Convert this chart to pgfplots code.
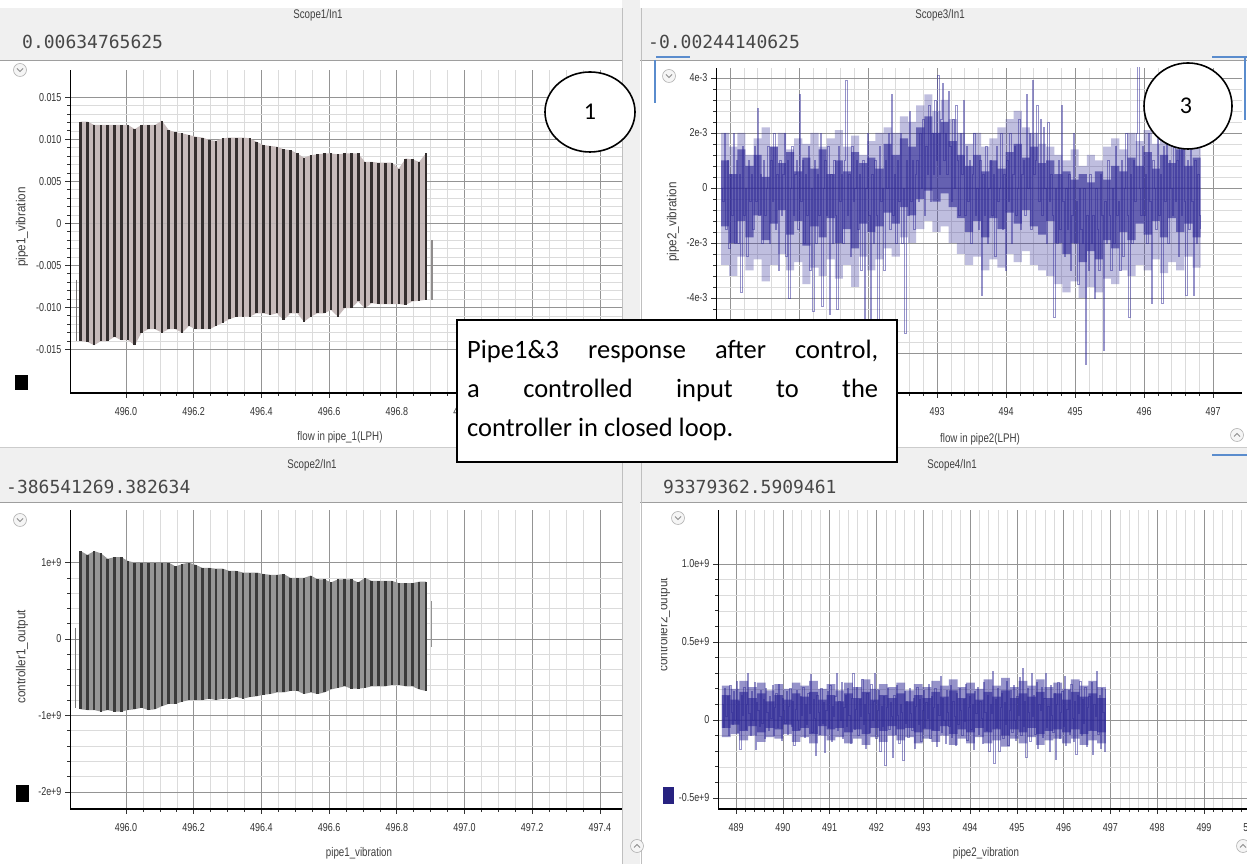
\documentclass[border=0pt]{standalone}
\usepackage{pgfplots}
\pgfplotsset{compat=1.18}
\usepackage{pgfplotstable}
\usepackage{fontspec}
\setmainfont{Liberation Sans}
\newfontfamily\narrow[FakeStretch=0.78]{Liberation Sans}
\newfontfamily\semi[FakeStretch=0.9]{Liberation Sans}
\newfontfamily\monofont{DejaVu Sans Mono}
\newfontfamily\calfont{Carlito}

\definecolor{hdr}{RGB}{240,240,240}
\definecolor{pbar}{RGB}{52,46,46}
\definecolor{pfill}{RGB}{198,186,186}
\definecolor{gbar}{RGB}{58,58,58}
\definecolor{gfill}{RGB}{150,150,150}
\definecolor{navy}{RGB}{46,40,150}
\definecolor{uiblue}{RGB}{90,140,205}

% bar tops/bottoms: panel 1 (pipe1_vibration, x1e-3) and panel 2 (controller1_output, x1e9)
\pgfplotstableread[row sep=\\]{
x t1 b1 t2 b2\\
495.866 12.1 -14.0 1.15 -0.92\\
495.886 12.1 -14.1 1.10 -0.93\\
495.906 11.7 -14.5 1.15 -0.93\\
495.926 11.7 -14.0 1.12 -0.95\\
495.946 11.7 -14.0 1.05 -0.93\\
495.966 11.7 -13.5 1.07 -0.95\\
495.986 11.7 -13.9 1.07 -0.95\\
496.006 11.7 -13.9 1.02 -0.93\\
496.026 11.2 -14.5 1.00 -0.92\\
496.046 11.7 -13.0 1.00 -0.90\\
496.066 11.7 -12.6 1.00 -0.93\\
496.086 11.7 -12.6 1.00 -0.92\\
496.106 12.2 -13.0 1.00 -0.88\\
496.126 11.1 -12.6 1.00 -0.85\\
496.146 10.8 -12.6 0.95 -0.85\\
496.166 10.7 -13.0 0.98 -0.82\\
496.186 10.5 -12.2 1.00 -0.80\\
496.206 10.3 -12.6 0.97 -0.80\\
496.226 10.2 -12.6 0.93 -0.80\\
496.246 9.9 -12.6 0.93 -0.78\\
496.266 9.8 -12.2 0.92 -0.80\\
496.286 10.1 -11.8 0.92 -0.78\\
496.306 10.2 -11.4 0.89 -0.78\\
496.326 10.2 -11.1 0.89 -0.76\\
496.346 10.2 -11.1 0.87 -0.78\\
496.366 10.1 -11.1 0.87 -0.76\\
496.386 9.7 -10.7 0.87 -0.75\\
496.406 9.3 -10.7 0.85 -0.73\\
496.426 9.2 -10.9 0.84 -0.72\\
496.446 9.1 -10.7 0.84 -0.70\\
496.466 8.8 -11.5 0.85 -0.70\\
496.486 8.7 -10.7 0.80 -0.68\\
496.506 8.3 -10.7 0.80 -0.68\\
496.526 7.8 -11.7 0.80 -0.72\\
496.546 8.1 -11.1 0.83 -0.70\\
496.566 8.2 -10.7 0.78 -0.72\\
496.586 8.3 -10.7 0.78 -0.70\\
496.606 8.3 -10.3 0.74 -0.66\\
496.626 8.2 -11.1 0.78 -0.64\\
496.646 8.3 -10.1 0.78 -0.62\\
496.666 8.3 -10.1 0.78 -0.65\\
496.686 8.3 -9.3 0.74 -0.65\\
496.706 7.3 -10.1 0.80 -0.64\\
496.726 7.3 -9.5 0.76 -0.62\\
496.746 7.2 -9.6 0.76 -0.62\\
496.766 7.2 -9.6 0.76 -0.62\\
496.786 7.2 -9.6 0.76 -0.60\\
496.806 6.5 -9.6 0.73 -0.60\\
496.826 7.7 -9.7 0.73 -0.62\\
496.846 7.6 -9.3 0.73 -0.62\\
496.866 7.3 -9.2 0.75 -0.66\\
496.886 8.3 -9.1 0.75 -0.68\\
}\bars

% panel 3: pipe2_vibration samples (x1e-3)
\pgfplotstableread[row sep=\\]{
y\\
0\\ -0.5\\ 2\\ -1.5\\ 1\\ -2.2\\ 0.5\\ -1\\ 2\\ -2\\
1\\ -2\\ 0.5\\ -3.8\\ 1.5\\ -1\\ 0\\ -2.5\\ 1\\ -0.5\\
0.5\\ -1.5\\ 1.5\\ -0.5\\ 2.9\\ -1\\ 0.5\\ -2\\ 1\\ -1\\
0\\ 1.5\\ -2\\ 1\\ -0.5\\ 2\\ -1.5\\ 0.5\\ -3\\ 1\\
-1\\ 0.5\\ 2\\ -2.5\\ 1\\ -4\\ 0\\ 1.5\\ -1\\ 0.5\\
1\\ -1.5\\ 3.4\\ -0.5\\ 1\\ -2\\ 0.5\\ -1\\ 1.5\\ -3\\
0\\ -4.5\\ 1\\ -2\\ 0.5\\ -1\\ 2\\ -4.3\\ 0\\ 1\\
-1\\ 1.5\\ -4.6\\ 0.5\\ -2\\ 1\\ -1\\ -4.4\\ 1.5\\ -0.5\\
0.5\\ -2\\ 1\\ 3.9\\ -1\\ 0.5\\ -2.5\\ 1.5\\ -0.5\\ 0\\
1\\ -1.5\\ 0.5\\ -3\\ 1\\ -4.9\\ 0\\ 2\\ -1\\ -5.2\\
0.5\\ -2\\ 1\\ -1\\ -5\\ 1.5\\ -0.5\\ 0\\ -3\\ 1\\
0\\ 2\\ -1.5\\ 3.4\\ -1\\ 0.5\\ -2\\ 1\\ -0.5\\ 2\\
-2\\ 0\\ -5.3\\ 1\\ -1\\ 2.8\\ -0.5\\ 1\\ -1.5\\ 0.5\\
1\\ -0.5\\ 2\\ 0\\ 2.5\\ -1\\ 1.5\\ 0.5\\ 3\\ -0.5\\
2\\ 0.5\\ 3.2\\ 1\\ 4.1\\ 0.5\\ 2.5\\ 3.8\\ 1\\ 2\\
0.5\\ 3.5\\ 1.5\\ -0.5\\ 2.5\\ 0\\ 3\\ 1\\ -1\\ 2\\
0.5\\ 3.2\\ -1\\ 1.5\\ -0.5\\ 1\\ -2\\ 0.5\\ 2\\ -1\\
0\\ -1.5\\ 1\\ -3.9\\ 0.5\\ -1\\ 1.5\\ -2\\ 0\\ 1\\
-1\\ 0.5\\ -2.5\\ 1.5\\ -0.5\\ 0\\ 2\\ -1.5\\ 0.5\\ -3\\
1\\ -0.5\\ 2\\ -2\\ 0.5\\ 1.5\\ -1\\ 0\\ 2.5\\ -1.5\\
0.5\\ 1\\ -1\\ 3.4\\ 0\\ 2\\ -1.5\\ 3.9\\ 0.5\\ 1\\
3\\ -0.5\\ 2.5\\ -1\\ 2.2\\ 0\\ -2\\ 2.4\\ -0.5\\ 0.5\\
-1\\ -4.7\\ 0\\ -2\\ 1\\ -1.5\\ 3\\ -0.5\\ -2.5\\ 0\\
-1.5\\ 0.5\\ -3\\ -1\\ 2\\ -2\\ -0.5\\ -3.5\\ 0\\ -1.5\\
-2\\ 0\\ -6.4\\ -1\\ -3\\ 0.5\\ -2\\ -1\\ -4\\ 0\\
-1.5\\ -3\\ 0.5\\ -1\\ -5.9\\ -0.5\\ -2\\ 1\\ -1\\ -3\\
0\\ -2\\ 1.5\\ -1\\ -0.5\\ -3\\ 1\\ -2.5\\ 0\\ 2\\
-1\\ -4.7\\ 0.5\\ -2\\ 1\\ -0.5\\ 2\\ 4.5\\ 0\\ -1\\
1.5\\ -1\\ 0.5\\ -2\\ 2\\ -0.5\\ -4.2\\ 1\\ 0\\ -1.5\\
2\\ -1\\ 0.5\\ -4.2\\ 1.5\\ -0.5\\ 2\\ -2\\ 1\\ 0\\
-1\\ 2\\ -0.5\\ 1\\ -2.5\\ 1.5\\ -1\\ 2\\ -0.5\\ -3.9\\
1\\ -1.5\\ 2\\ -0.5\\ -3.9\\ 1\\ -2\\ 0.5\\ -1\\ -1.5\\
}\pthree

% panel 3: dense core (up, lo) and common range (up2, lo2), x1e-3
\pgfplotstableread[row sep=\\]{
up lo up2 lo2\\
1.0 -1.4 2.0 -2.8\\ 0.5 -2.0 1.5 -3.2\\ 1.4 -1.2 2.0 -2.5\\ 0.8 -1.8 1.2 -3.0\\ 1.2 -1.0 1.8 -2.6\\
0.4 -1.9 2.2 -3.4\\ 1.5 -1.3 1.5 -2.8\\ 0.9 -0.8 2.0 -2.4\\ 1.3 -1.7 1.4 -3.0\\ 0.6 -1.2 1.8 -2.7\\
1.1 -2.1 1.6 -3.5\\ 0.7 -1.4 2.0 -2.9\\ 1.4 -1.8 1.5 -3.2\\ 0.5 -1.1 1.8 -2.6\\ 1.0 -2.0 2.1 -3.3\\
0.6 -1.5 1.5 -2.8\\ 1.3 -2.2 1.9 -3.6\\ 0.9 -1.3 1.2 -2.5\\ 1.1 -1.6 1.7 -3.0\\ 0.7 -1.4 2.0 -2.6\\
1.6 -0.9 2.2 -2.2\\ 1.2 -1.3 2.0 -2.5\\ 1.8 -0.7 2.6 -1.8\\ 1.5 -1.0 2.4 -2.0\\ 2.2 -0.4 3.0 -1.5\\
2.6 -0.1 3.4 -1.2\\ 2.0 -0.5 2.8 -1.6\\ 2.4 -0.2 3.2 -1.4\\ 1.7 -0.7 2.5 -2.0\\ 1.2 -1.1 2.0 -2.4\\
0.8 -1.6 1.6 -2.8\\ 1.2 -1.2 2.0 -2.5\\ 0.6 -1.8 1.5 -3.0\\ 1.0 -1.1 1.8 -2.6\\ 0.7 -1.5 2.2 -2.9\\
1.3 -0.9 2.5 -2.4\\ 1.6 -1.3 2.8 -2.7\\ 1.1 -0.8 2.2 -2.3\\ 1.5 -1.4 2.0 -2.8\\ 0.9 -1.7 1.6 -3.0\\
1.0 -1.2 1.5 -3.2\\ 0.5 -2.0 1.2 -3.5\\ 0.6 -2.4 1.0 -3.8\\ 0.3 -2.0 1.4 -3.4\\ 0.5 -2.7 0.8 -4.0\\
0.2 -2.3 1.2 -3.6\\ 0.6 -2.6 1.0 -3.8\\ 0.3 -1.9 1.5 -3.3\\ 0.8 -2.2 1.8 -3.5\\ 0.6 -1.6 1.4 -3.0\\
1.1 -1.9 2.0 -3.2\\ 0.8 -1.3 1.7 -2.8\\ 1.3 -1.7 2.1 -3.0\\ 0.7 -1.2 1.6 -2.6\\ 1.2 -1.8 2.0 -3.1\\
0.9 -1.1 1.8 -2.7\\ 1.4 -1.6 2.2 -3.0\\ 0.8 -1.3 1.6 -2.5\\ 1.1 -1.8 2.0 -2.9\\ 0.9 -1.5 1.7 -2.7\\
}\corethree

% panel 4: controller2_output samples (x1e8)
\pgfplotstableread[row sep=\\]{
y\\
1.0\\ -0.5\\ 2.0\\ 0.2\\ 1.5\\ -1.0\\ 2.2\\ 0.5\\ -0.3\\ 1.8\\
0.0\\ 2.5\\ -0.8\\ 1.2\\ -1.9\\ 1.6\\ 0.3\\ 2.1\\ -0.6\\ 1.0\\
3.0\\ 0.4\\ -1.0\\ 1.8\\ 0.0\\ 2.4\\ -1.9\\ 1.1\\ 0.6\\ -0.4\\
1.9\\ -0.2\\ 1.3\\ -1.2\\ 2.0\\ 0.5\\ -0.7\\ 1.5\\ 0.1\\ 2.2\\
-1.0\\ 0.8\\ 1.7\\ -0.5\\ 2.3\\ 0.2\\ -1.3\\ 1.4\\ 0.6\\ -0.2\\
1.8\\ -0.9\\ 0.9\\ 2.0\\ -0.4\\ 1.2\\ -1.6\\ 0.7\\ 1.9\\ 0.0\\
-0.6\\ 1.5\\ 0.3\\ 2.1\\ -1.1\\ 1.0\\ -0.3\\ 1.7\\ 0.4\\ 2.9\\
-0.8\\ 1.3\\ 0.1\\ -2.3\\ 1.6\\ 0.5\\ -0.9\\ 2.0\\ -0.2\\ 1.1\\
-2.1\\ 0.6\\ 1.8\\ -0.5\\ 2.2\\ -1.4\\ 0.9\\ 0.2\\ 1.5\\ 3.0\\
-0.7\\ 1.2\\ 0.0\\ 2.4\\ -1.2\\ 0.8\\ 1.6\\ -0.4\\ 2.0\\ 0.3\\
-1.5\\ 1.4\\ 3.0\\ -0.6\\ 0.7\\ 2.1\\ -1.0\\ 1.3\\ 0.2\\ 2.6\\
-0.3\\ 1.0\\ -1.8\\ 1.7\\ 0.4\\ -0.8\\ 2.3\\ 0.0\\ 1.2\\ 3.0\\
-1.2\\ 0.6\\ 1.9\\ -2.0\\ 0.9\\ -0.4\\ 1.5\\ -2.9\\ 0.8\\ 2.0\\
-0.6\\ 1.1\\ 0.2\\ -2.4\\ 1.6\\ -0.9\\ 2.2\\ 0.3\\ -1.5\\ 1.0\\
0.5\\ -2.6\\ 1.8\\ -0.2\\ 1.2\\ -1.1\\ 2.0\\ 0.4\\ -0.7\\ 1.4\\
-1.8\\ 0.9\\ 2.1\\ -0.3\\ 1.3\\ -1.4\\ 0.6\\ 1.9\\ -0.5\\ 1.1\\
0.1\\ 2.3\\ -1.2\\ 1.5\\ -0.6\\ 0.8\\ 2.0\\ -1.7\\ 1.0\\ 0.3\\
2.8\\ -0.8\\ 1.4\\ 0.0\\ -1.5\\ 1.9\\ 0.5\\ -0.4\\ 2.2\\ -1.1\\
1.2\\ 0.2\\ -1.6\\ 1.7\\ -0.3\\ 2.0\\ 0.6\\ -1.0\\ 1.3\\ -0.1\\
2.3\\ -1.3\\ 0.8\\ 1.5\\ -0.6\\ 1.0\\ -1.9\\ 1.8\\ 0.4\\ 2.1\\
-0.9\\ 1.2\\ 0.1\\ -1.5\\ 2.4\\ 0.5\\ -0.7\\ 1.6\\ -2.0\\ 1.0\\
0.4\\ 3.1\\ -2.8\\ 1.3\\ -0.5\\ 2.0\\ -2.0\\ 0.8\\ 1.7\\ -1.2\\
1.1\\ -0.3\\ 2.5\\ -1.6\\ 0.6\\ 1.9\\ -0.8\\ 2.2\\ 0.0\\ -1.3\\
1.5\\ 0.3\\ 2.7\\ -1.0\\ 3.3\\ -0.4\\ 1.2\\ -2.4\\ 2.0\\ 0.5\\
-1.4\\ 3.0\\ 0.2\\ 1.6\\ -0.9\\ 2.4\\ -1.8\\ 1.0\\ 0.6\\ 2.1\\
-1.1\\ 1.4\\ 3.0\\ -0.5\\ 0.9\\ -2.0\\ 2.2\\ 0.3\\ -0.8\\ 1.7\\
-2.5\\ 1.0\\ 2.4\\ -1.2\\ 0.5\\ 1.8\\ -0.4\\ 2.8\\ -1.6\\ 0.7\\
1.9\\ -0.9\\ 2.3\\ 0.1\\ -1.4\\ 1.2\\ -2.2\\ 1.6\\ 0.4\\ 2.5\\
-1.0\\ 1.3\\ -0.2\\ 2.1\\ -1.7\\ 0.8\\ 1.5\\ -0.6\\ 2.4\\ -2.2\\
1.0\\ 0.2\\ 3.1\\ -0.9\\ 1.6\\ -1.8\\ 2.0\\ 0.5\\ -2.0\\ 2.0\\
}\pfour

% panel 4: dense core (up, lo) and common range (up2, lo2), x1e8
\pgfplotstableread[row sep=\\]{
up lo up2 lo2\\
1.6 -0.5 2.2 -1.1\\ 1.3 -0.3 2.0 -0.9\\ 1.8 -0.7 2.5 -1.3\\ 1.4 -0.4 2.1 -1.0\\ 1.7 -0.8 2.4 -1.4\\
1.2 -0.5 1.9 -1.1\\ 1.6 -0.6 2.3 -1.2\\ 1.3 -0.3 2.0 -0.9\\ 1.7 -0.7 2.4 -1.4\\ 1.5 -0.5 2.2 -1.1\\
1.8 -0.9 2.5 -1.5\\ 1.3 -0.4 2.0 -1.0\\ 1.6 -0.6 2.3 -1.3\\ 1.2 -0.5 1.9 -1.1\\ 1.7 -0.8 2.4 -1.5\\
1.4 -0.6 2.1 -1.2\\ 1.8 -0.9 2.6 -1.6\\ 1.3 -0.5 2.0 -1.1\\ 1.6 -0.7 2.3 -1.4\\ 1.4 -0.4 2.1 -1.0\\
1.7 -0.6 2.4 -1.3\\ 1.2 -0.5 1.9 -1.1\\ 1.6 -0.8 2.3 -1.5\\ 1.4 -0.6 2.1 -1.2\\ 1.8 -0.7 2.5 -1.4\\
1.5 -0.4 2.2 -1.0\\ 1.9 -0.9 2.6 -1.6\\ 1.4 -0.6 2.1 -1.2\\ 1.7 -0.8 2.4 -1.5\\ 1.3 -0.5 2.0 -1.1\\
1.8 -0.8 2.6 -1.5\\ 1.5 -0.6 2.2 -1.3\\ 1.9 -1.0 2.7 -1.7\\ 1.4 -0.6 2.1 -1.2\\ 1.7 -0.8 2.5 -1.5\\
1.5 -0.5 2.2 -1.1\\ 1.8 -0.9 2.6 -1.6\\ 1.4 -0.7 2.1 -1.3\\ 1.7 -0.6 2.4 -1.2\\ 1.3 -0.8 2.0 -1.5\\
1.8 -0.6 2.6 -1.2\\ 1.5 -0.9 2.2 -1.6\\ 1.7 -0.7 2.5 -1.3\\ 1.4 -0.8 2.1 -1.5\\ 1.6 -0.7 2.3 -1.4\\
}\corefour

\pgfplotsset{
  scopeax/.style={
    scale only axis, anchor=south west,
    axis x line*=bottom, axis y line*=left,
    x axis line style={-, line width=1.5pt},
    y axis line style={-, line width=0.8pt},
    tick align=outside,
    major tick length=5pt, minor tick length=3pt,
    tick style={black!80, line width=0.6pt},
    grid=both,
    major grid style={draw=black!42, line width=0.6pt},
    minor grid style={draw=black!14, line width=0.5pt},
    /pgf/number format/assume math mode=true,
    ticklabel style={font=\narrow\fontsize{11.5}{11.5}\selectfont, text=black!80},
    xticklabel style={yshift=-6pt},
  }
}

\newcommand{\downicon}[2]{%
  \draw[black!30, line width=0.6pt, fill=black!4] (#1,#2) circle (6.5);
  \draw[black!45, line width=0.9pt] ({#1-3},{#2+1.5}) -- (#1,{#2-1.5}) -- ({#1+3},{#2+1.5});}
\newcommand{\upicon}[2]{%
  \draw[black!30, line width=0.6pt, fill=black!4] (#1,#2) circle (6.5);
  \draw[black!45, line width=0.9pt] ({#1-3},{#2-1.5}) -- (#1,{#2+1.5}) -- ({#1+3},{#2-1.5});}

\begin{document}
\begin{tikzpicture}[x=1pt,y=1pt]
\useasboundingbox (0,0) rectangle (1247,864);
\fill[white] (0,0) rectangle (1247,864);
% headers
\fill[hdr] (0,804) rectangle (622,856);
\fill[hdr] (640,804) rectangle (1247,856);
\fill[hdr] (0,362) rectangle (622,417);
\fill[hdr] (640,362) rectangle (1247,417);
\draw[black!38, line width=0.8pt] (0,804) -- (622,804) (640,804) -- (1247,804);
\draw[black!38, line width=0.8pt] (0,362) -- (622,362) (640,362) -- (1247,362);
\draw[black!20, line width=0.6pt] (0,417) -- (622,417) (640,417) -- (1247,417);
% separator strip
\fill[hdr] (622,0) rectangle (640,864);
\draw[black!25, line width=0.6pt] (622,0) -- (622,856) (641,0) -- (641,856);

% ---------- Panel 1 ----------
\begin{axis}[scopeax, at={(70pt,471pt)}, width=552pt, height=323pt,
  xmin=495.8346, xmax=497.4653, ymin=-20.18, ymax=18.23,
  xtick={496.0,496.2,496.4,496.6,496.8,497.0,497.2,497.4},
  xticklabels={496.0,496.2,496.4,496.6,496.8,497.0,497.2,497.4},
  minor x tick num=3,
  ytick={-15,-10,-5,0,5,10,15},
  yticklabels={-0.015,-0.010,-0.005,0,0.005,0.010,0.015},
  minor y tick num=4]
\addplot[fill=pfill, draw=none] table[x=x,y=t1]{\bars} \closedcycle;
\addplot[fill=pfill, draw=none] table[x=x,y=b1]{\bars} \closedcycle;
\addplot[ycomb, pbar, line width=2.6pt] table[x=x,y=t1]{\bars};
\addplot[ycomb, pbar, line width=2.6pt] table[x=x,y=b1]{\bars};
\addplot[pbar!70, line width=1.2pt] coordinates {(495.853,-6.7) (495.853,-14.0)};
\addplot[pbar!55, line width=1.2pt] coordinates {(496.904,-2.0) (496.904,-9.1)};
\end{axis}

% ---------- Panel 3 ----------
\begin{axis}[scopeax, at={(716pt,471pt)}, width=526pt, height=325pt,
  xmin=489.797, xmax=497.42, ymin=-7.4545, ymax=4.3636,
  xtick={490,491,492,493,494,495,496,497},
  xticklabels={490,491,492,493,494,495,496,497},
  minor x tick num=4,
  ytick={-6,-4,-2,0,2,4},
  yticklabels={-6e-3,-4e-3,-2e-3,0,2e-3,4e-3},
  minor y tick num=4]
\addplot[const plot, fill=navy, fill opacity=0.3, draw=none] table[x expr={489.87+\coordindex*0.1178}, y=up2]{\corethree} \closedcycle;
\addplot[const plot, fill=navy, fill opacity=0.3, draw=none] table[x expr={489.87+\coordindex*0.1178}, y=lo2]{\corethree} \closedcycle;
\addplot[const plot, fill=navy, fill opacity=0.62, draw=none] table[x expr={489.87+\coordindex*0.1178}, y=up]{\corethree} \closedcycle;
\addplot[const plot, fill=navy, fill opacity=0.62, draw=none] table[x expr={489.87+\coordindex*0.1178}, y=lo]{\corethree} \closedcycle;
\addplot[const plot, navy, line width=0.9pt, opacity=0.5] table[x expr={489.87+\coordindex*0.0218}, y=y]{\pthree};
\end{axis}

% ---------- Panel 2 ----------
\begin{axis}[scopeax, at={(70pt,55pt)}, width=552pt, height=299pt,
  xmin=495.8346, xmax=497.4653, ymin=-2.225, ymax=1.688,
  xtick={496.0,496.2,496.4,496.6,496.8,497.0,497.2,497.4},
  xticklabels={496.0,496.2,496.4,496.6,496.8,497.0,497.2,497.4},
  minor x tick num=3,
  ytick={-2,-1,0,1},
  yticklabels={-2e+9,-1e+9,0,1e+9},
  minor y tick num=4]
\addplot[fill=gfill, draw=none] table[x=x,y=t2]{\bars} \closedcycle;
\addplot[fill=gfill, draw=none] table[x=x,y=b2]{\bars} \closedcycle;
\addplot[ycomb, gbar, line width=2.6pt] table[x=x,y=t2]{\bars};
\addplot[ycomb, gbar, line width=2.6pt] table[x=x,y=b2]{\bars};
\addplot[gbar!70, line width=1.2pt] coordinates {(495.852,0.15) (495.852,-0.90)};
\addplot[gbar!55, line width=1.2pt] coordinates {(496.903,0.50) (496.903,-0.10)};
\end{axis}

% ---------- Panel 4 ----------
\begin{axis}[scopeax, at={(718pt,55pt)}, width=544pt, height=299pt,
  xmin=488.615, xmax=500.24, ymin=-5.705, ymax=13.46,
  xtick={489,490,491,492,493,494,495,496,497,498,499,500},
  xticklabels={489,490,491,492,493,494,495,496,497,498,499,500},
  minor x tick num=4,
  ytick={-5,0,5,10},
  yticklabels={-0.5e+9,0,0.5e+9,1.0e+9},
  minor y tick num=4]
\addplot[const plot, fill=navy, fill opacity=0.5, draw=none] table[x expr={488.70+\coordindex*0.1864}, y=up2]{\corefour} \closedcycle;
\addplot[const plot, fill=navy, fill opacity=0.5, draw=none] table[x expr={488.70+\coordindex*0.1864}, y=lo2]{\corefour} \closedcycle;
\addplot[const plot, fill=navy, fill opacity=0.65, draw=none] table[x expr={488.70+\coordindex*0.1864}, y=up]{\corefour} \closedcycle;
\addplot[const plot, fill=navy, fill opacity=0.65, draw=none] table[x expr={488.70+\coordindex*0.1864}, y=lo]{\corefour} \closedcycle;
\addplot[const plot, navy, line width=0.9pt, opacity=0.5] table[x expr={488.70+\coordindex*0.0274}, y=y]{\pfour};
\end{axis}

% ---------- texts ----------
\tikzset{tiny/.style={font=\narrow\fontsize{12.5}{12.5}\selectfont, text=black!75, inner sep=0pt}}
\tikzset{ylab/.style={font=\semi\fontsize{13}{13}\selectfont, text=black!75, inner sep=0pt, rotate=90}}
\node[tiny] at (318,849) {Scope1/In1};
\node[tiny] at (940,849) {Scope3/In1};
\node[tiny] at (312,399) {Scope2/In1};
\node[tiny] at (952,399) {Scope4/In1};
\tikzset{val/.style={font=\monofont\fontsize{18}{18}\selectfont, text=black!72, inner sep=0pt, anchor=west}}
\node[val] at (22,822) {0.00634765625};
\node[val] at (648,822) {-0.00244140625};
\node[val] at (6,377) {-386541269.382634};
\node[val] at (663,377) {93379362.5909461};

\node[tiny] at (340,427) {flow in pipe\_1(LPH)};
\node[tiny] at (980,425) {flow in pipe2(LPH)};
\node[tiny] at (359,11) {pipe1\_vibration};
\node[tiny] at (986,11) {pipe2\_vibration};
\node[ylab] at (22,637) {pipe1\_vibration};
\node[ylab] at (673,642) {pipe2\_vibration};
\node[ylab] at (22,207) {controller1\_output};
\begin{scope}
\clip (661,100) rectangle (700,400);
\node[ylab] at (664,239) {controller2\_output};
\end{scope}

% swatches
\fill[black] (15,474) rectangle (28,489);
\fill[black] (16,62) rectangle (29,79);
\fill[navy!85!black] (663,60) rectangle (674,77);

% icons
\downicon{20}{794}
\downicon{669}{788}
\downicon{20}{344}
\downicon{678}{346}
\upicon{1237}{429}
\upicon{637}{18}
\upicon{1243}{18}

% blue UI marks
\draw[uiblue, line width=1.5pt] (656,807) -- (690,807);
\draw[uiblue, line width=1.5pt] (655,804) -- (655,761);
\draw[uiblue, line width=1.5pt] (1212,807) -- (1247,807);
\draw[uiblue, line width=1.2pt] (1245,807) -- (1245,744);
\draw[uiblue, line width=1.5pt] (1212,409) -- (1247,409);

% circles
\draw[black, line width=1.6pt, fill=white] (590,752) ellipse [x radius=45, y radius=40];
\node[font=\calfont\fontsize{24}{24}\selectfont] at (590,752) {1};
\draw[black, line width=1.6pt, fill=white] (1188,758) ellipse [x radius=44, y radius=43];
\node[font=\calfont\fontsize{24}{24}\selectfont] at (1186,758) {3};

% text box
\draw[black, line width=1.6pt, fill=white] (457,402) rectangle (897,544);
\begin{scope}[every node/.style={font=\calfont\fontsize{26.5}{30}\selectfont, inner sep=0pt, anchor=base west}]
\node at (467,505) {\hbox to 411pt{Pipe1\&3\hfill response\hfill after\hfill control,}};
\node at (467,466) {\hbox to 411pt{a\hfill controlled\hfill input\hfill to\hfill the}};
\node at (467,427) {controller in closed loop.};
\end{scope}
\end{tikzpicture}
\end{document}
